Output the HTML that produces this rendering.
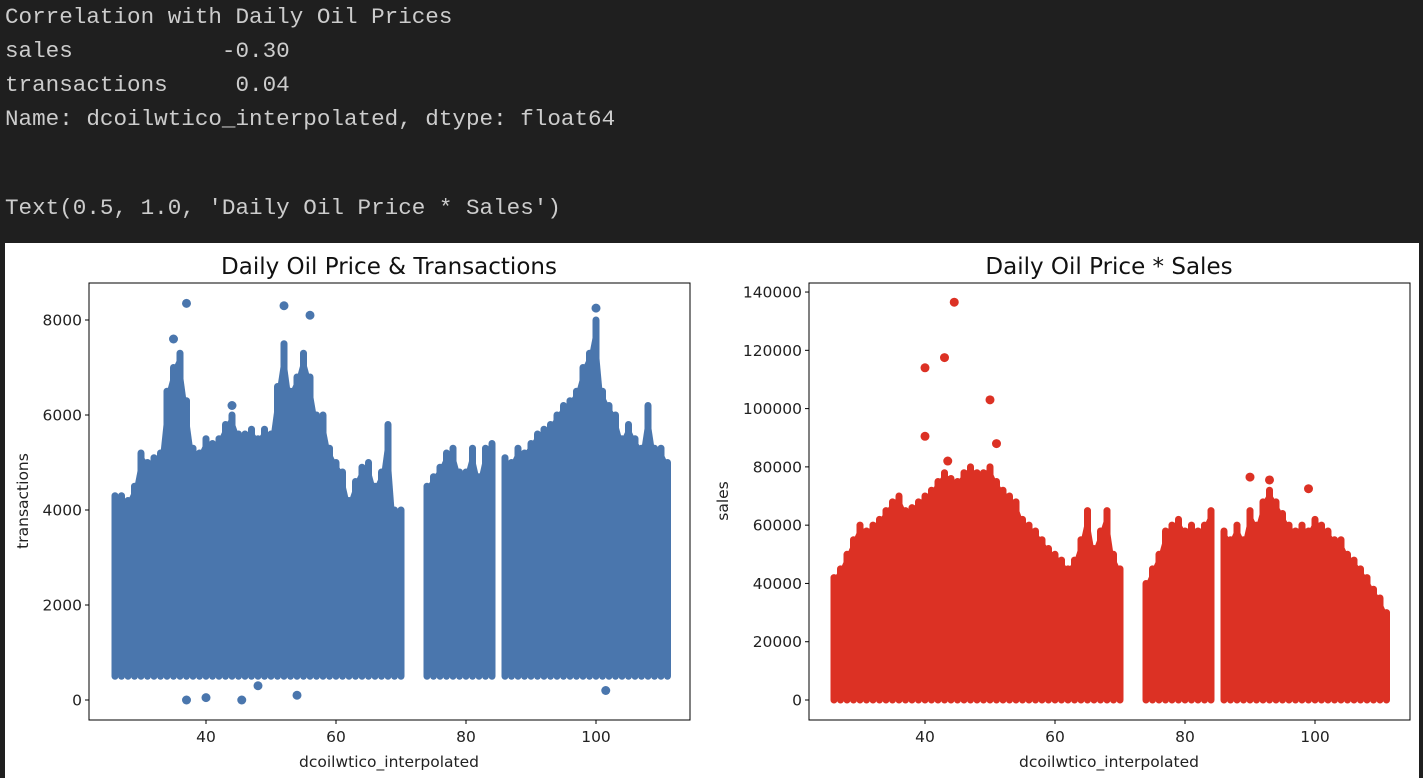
<!DOCTYPE html>
<html><head><meta charset="utf-8"><style>
body{margin:0;background:#1f1f1f;width:1423px;height:778px;overflow:hidden;font-family:"DejaVu Sans",sans-serif}
.out{position:absolute;left:5px;font-family:"Liberation Mono",monospace;font-size:22.6px;color:#cccccc;white-space:pre;line-height:34px}
</style></head><body>
<div class="out" style="top:0">Correlation with Daily Oil Prices
sales           -0.30
transactions     0.04
Name: dcoilwtico_interpolated, dtype: float64</div>
<div class="out" style="top:191px">Text(0.5, 1.0, 'Daily Oil Price * Sales')</div>
<svg id="fig" style="position:absolute;left:0;top:0;font-family:'DejaVu Sans',sans-serif" width="1423" height="778">
<rect x="5" y="243" width="1414" height="535" fill="#fff"/>
</svg>
<script>
const prices=[];for(let p=26;p<=111;p++)prices.push(p);
const transMax=[4300,4300,4200,4500,5200,5000,5100,5200,6500,7000,7300,6300,5300,5200,5500,5400,5500,5800,6000,5600,5600,5700,5500,5700,5600,6600,7500,6500,6800,7300,6800,6000,6000,5300,5000,4800,4200,4600,4900,5000,4500,4800,5800,4000,4000,0,0,0,4500,4700,4900,5200,5300,4800,4800,5300,4700,5300,5400,0,5100,5000,5300,5200,5400,5600,5700,5800,6000,6200,6300,6500,7000,7300,8000,6500,6200,6000,5500,5800,5500,5300,6200,5300,5300,5000];
const transMin=500;
const transOutX=[37,52,56,100,37,40,45.5,54,101.5,48,35,44];
const transOutY=[8350,8300,8100,8250,0,50,0,100,200,300,7600,6200];
const salesMax=[42000,45000,50000,55000,60000,58000,60000,62000,65000,68000,70000,65000,66000,68000,70000,72000,75000,78000,76000,75000,78000,80000,78000,78000,80000,75000,72000,70000,68000,62000,60000,58000,55000,52000,50000,48000,45000,48000,55000,65000,52000,58000,65000,50000,45000,0,0,0,40000,45000,50000,58000,60000,62000,58000,60000,58000,60000,65000,0,58000,55000,60000,55000,65000,60000,68000,72000,68000,64000,60000,58000,60000,58000,62000,60000,58000,55000,55000,50000,48000,45000,42000,38000,35000,30000];
const salesMin=0;
const salesOutX=[40,43,44.5,40,50,43.5,51,90,93,99];
const salesOutY=[114000,117500,136500,90500,103000,82000,88000,76500,75500,72500];
const xTicks=[40,60,80,100];
const transTicks=[0,2000,4000,6000,8000];
const salesTicks=[0,20000,40000,60000,80000,100000,120000,140000];
const NS="http://www.w3.org/2000/svg",svg=document.getElementById('fig');
function el(t,a,txt){const e=document.createElementNS(NS,t);for(const k in a)e.setAttribute(k,a[k]);if(txt!==undefined)e.textContent=txt;svg.appendChild(e);return e;}
function panel(o){
 const x=v=>o.x40+(v-40)*6.5, y=v=>700-v*o.k;
 prices.forEach((p,i)=>{const m=o.max[i];if(!m)return;
  const l=el('line',{x1:x(p),x2:x(p),y1:y(o.min),y2:y(m),stroke:o.c,'stroke-width':7,'stroke-linecap':'round'});
  
  if(i<prices.length-1&&o.max[i+1]){const q=el('polygon',{points:`${x(p)},${y(o.min)} ${x(p)},${y(m)} ${x(p+1)},${y(o.max[i+1])} ${x(p+1)},${y(o.min)}`,fill:o.c});
   }
 });
 o.ox.forEach((v,i)=>{const c=el('circle',{cx:x(v),cy:y(o.oy[i]),r:4.5,fill:o.c});
  });
 const ax=el('rect',{x:o.L,y:283,width:601,height:437,fill:'none',stroke:'#000','stroke-width':1});
 
 xTicks.forEach(t=>{el('line',{x1:x(t),x2:x(t),y1:720,y2:724,stroke:'#000'});
  const tx=el('text',{x:x(t),y:742,'font-size':15.5,'text-anchor':'middle',fill:'#222'},t);
  });
 o.ticks.forEach(t=>{el('line',{x1:o.L-4,x2:o.L,y1:y(t),y2:y(t),stroke:'#000'});
  const tx=el('text',{x:o.L-7,y:y(t)+5.5,'font-size':15.5,'text-anchor':'end',fill:'#222'},t);
  });
 const xt=el('text',{x:o.L+300,y:767,'font-size':15.5,'text-anchor':'middle',fill:'#222'},'dcoilwtico_interpolated');
 
 const yt=el('text',{x:0,y:0,'font-size':15.5,'text-anchor':'middle',fill:'#222',transform:`translate(${o.yl},501) rotate(-90)`},o.yt);
 
 const ti=el('text',{x:o.L+300,y:274,'font-size':23,'text-anchor':'middle',fill:'#111'},o.title);
 
}
panel({n:'transactions',L:89,x40:206,k:0.0475,max:transMax,min:transMin,ox:transOutX,oy:transOutY,c:'#4a76ad',ticks:transTicks,yt:'transactions',yl:28,title:'Daily Oil Price & Transactions'});
panel({n:'sales',L:809,x40:925,k:0.002914,max:salesMax,min:salesMin,ox:salesOutX,oy:salesOutY,c:'#dc3124',ticks:salesTicks,yt:'sales',yl:728,title:'Daily Oil Price * Sales'});
</script>
</body></html>
